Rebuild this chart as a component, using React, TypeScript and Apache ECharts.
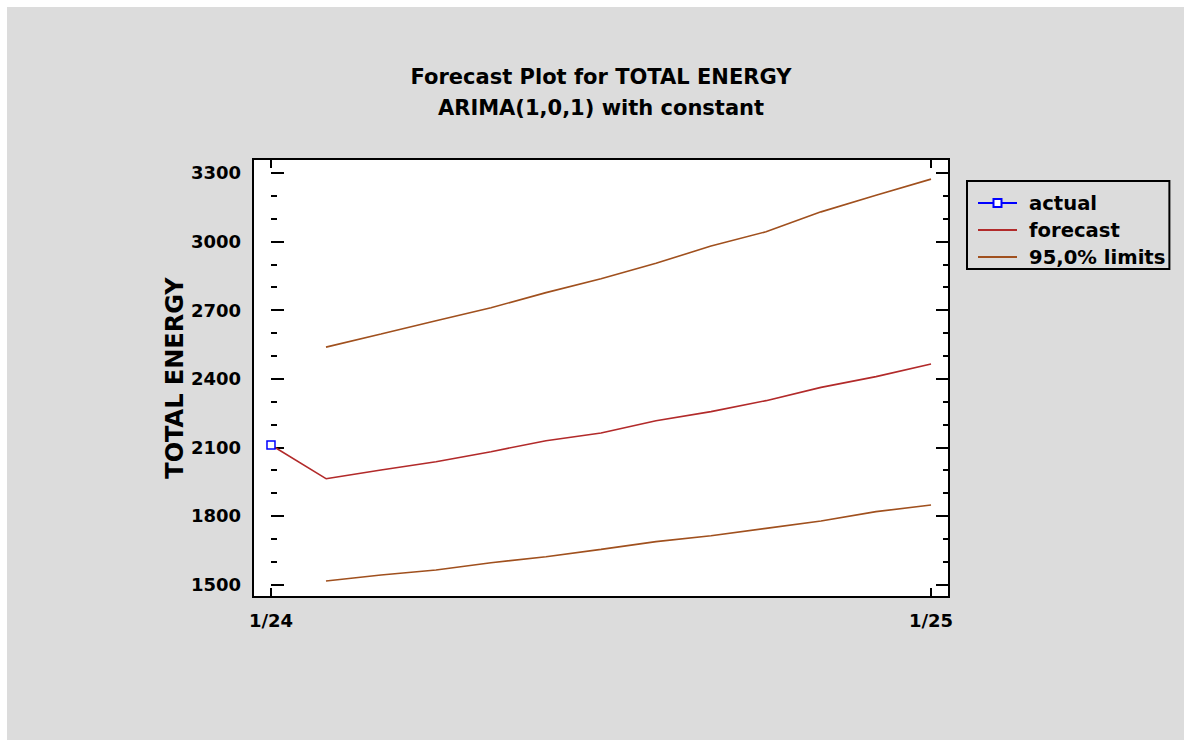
import React, { useEffect, useRef } from "react";
import * as echarts from "echarts";

// month index 0 = 1/24 ... 12 = 1/25
const xTickIndex = [0, 12];
const xTickLabels = ["1/24", "1/25"];
const actualMonths = [0];
const actualValues = [2110];
const forecastMonths = [0, 1, 2, 3, 4, 5, 6, 7, 8, 9, 10, 11, 12];
const forecastValues = [2110, 1963, 2001, 2037, 2081, 2129, 2163, 2216, 2256, 2304, 2362, 2409, 2464];
const limitMonths = [1, 2, 3, 4, 5, 6, 7, 8, 9, 10, 11, 12];
const upperValues = [2538, 2595, 2653, 2710, 2776, 2837, 2904, 2980, 3042, 3129, 3202, 3272];
const lowerValues = [1516, 1542, 1564, 1596, 1622, 1654, 1688, 1714, 1746, 1778, 1819, 1848];
const yMajorTicks = [1500, 1800, 2100, 2400, 2700, 3000, 3300];
const yMinorTicks = [1600, 1700, 1900, 2000, 2200, 2300, 2500, 2600, 2800, 2900, 3100, 3200];

const FONT = '"DejaVu Sans", Verdana, sans-serif';
const Y_MIN = 1446;
const Y_MAX = 3360;
const X_MIN = -0.327;
const X_MAX = 12.327;

function pairs(xs: number[], ys: number[]) {
  return xs.map((x, i) => [x, ys[i]]);
}

export default function App() {
  const ref = useRef<HTMLDivElement>(null);
  useEffect(() => {
    if (!ref.current) return;
    const chart = echarts.init(ref.current, null, { renderer: "svg" });
    const yBase = (position: string, ticks: number[], len: number, labels: boolean) => ({
      type: "value",
      position,
      min: Y_MIN,
      max: Y_MAX,
      splitLine: { show: false },
      axisLine: { show: false },
      axisTick: {
        show: true,
        inside: true,
        length: len,
        customValues: ticks,
        lineStyle: { color: "#000", width: 2 },
      },
      axisLabel: labels
        ? {
            show: true,
            customValues: yMajorTicks,
            formatter: (v: number) => String(Math.round(v)),
            color: "#000",
            fontFamily: FONT,
            fontWeight: "bold",
            fontSize: 18,
            margin: 12,
          }
        : { show: false },
    });
    const xBase = (position: string, labels: boolean) => ({
      type: "value",
      position,
      min: X_MIN,
      max: X_MAX,
      splitLine: { show: false },
      axisLine: { show: false },
      axisTick: {
        show: true,
        inside: true,
        length: 9,
        customValues: xTickIndex,
        lineStyle: { color: "#000", width: 2 },
      },
      axisLabel: labels
        ? {
            show: true,
            customValues: xTickIndex,
            formatter: (v: number) => xTickLabels[xTickIndex.indexOf(Math.round(v))] ?? "",
            color: "#000",
            fontFamily: FONT,
            fontWeight: "bold",
            fontSize: 18,
            margin: 14,
          }
        : { show: false },
    });
    const limitColor = "#a0501e";
    const forecastColor = "#b22a2a";
    const clear = "rgba(0,0,0,0)";
    chart.setOption({
      animation: false,
      backgroundColor: "#ffffff",
      graphic: [
        {
          type: "rect",
          z: -100,
          silent: true,
          shape: { x: 7, y: 7, width: 1177, height: 733 },
          style: { fill: "#dcdcdc" },
        },
      ],
      title: {
        text: "Forecast Plot for TOTAL ENERGY\nARIMA(1,0,1) with constant",
        left: 601,
        top: 61,
        textAlign: "center",
        padding: 0,
        textStyle: {
          color: "#000",
          fontFamily: FONT,
          fontWeight: "bold",
          fontSize: 21,
          lineHeight: 31,
        },
      },
      legend: {
        orient: "vertical",
        left: 967,
        top: 181,
        padding: [12, 4, 2, 10],
        itemGap: 7,
        itemWidth: 39,
        itemHeight: 10,
        borderColor: "#000",
        borderWidth: 2,
        backgroundColor: "#dcdcdc",
        textStyle: { color: "#000", fontFamily: FONT, fontWeight: "bold", fontSize: 19.6, padding: [0, 0, 0, 7] },
        data: ["actual", "forecast", "95,0% limits"],
      },
      grid: {
        left: 253,
        top: 159,
        right: 235,
        bottom: 143,
        show: true,
        backgroundColor: "#ffffff",
        borderColor: "#000",
        borderWidth: 2,
      },
      xAxis: [xBase("bottom", true), xBase("top", false)],
      yAxis: [
        {
          ...yBase("left", yMajorTicks, 13, true),
          name: "TOTAL ENERGY",
          nameLocation: "middle",
          nameGap: 66,
          nameMoveOverlap: false,
          nameTextStyle: { color: "#000", fontFamily: FONT, fontWeight: "bold", fontSize: 24 },
        },
        yBase("left", yMinorTicks, 6, false),
        yBase("right", yMajorTicks, 13, false),
        yBase("right", yMinorTicks, 6, false),
      ],
      series: [
        {
          name: "forecast",
          type: "line",
          data: pairs(forecastMonths, forecastValues),
          symbol: "none",
          lineStyle: { color: forecastColor, width: 1.6 },
          itemStyle: { color: clear },
          z: 3,
        },
        {
          name: "95,0% limits",
          type: "line",
          data: pairs(limitMonths, upperValues),
          symbol: "none",
          lineStyle: { color: limitColor, width: 1.6 },
          itemStyle: { color: clear },
        },
        {
          name: "95,0% limits",
          type: "line",
          data: pairs(limitMonths, lowerValues),
          symbol: "none",
          lineStyle: { color: limitColor, width: 1.6 },
          itemStyle: { color: clear },
        },
        {
          name: "actual",
          type: "line",
          data: pairs(actualMonths, actualValues),
          symbol: "rect",
          symbolSize: 8,
          itemStyle: { color: "#ffffff", borderColor: "#0000ff", borderWidth: 1.5 },
          lineStyle: { color: "#0000ff", width: 1.5 },
          z: 5,
        },
      ],
    });
    return () => chart.dispose();
  }, []);
  return (
    <div style={{ position: "absolute", left: 0, top: 0, width: 1184, height: 740 }}>
      <div ref={ref} style={{ width: 1184, height: 740 }} />
    </div>
  );
}
